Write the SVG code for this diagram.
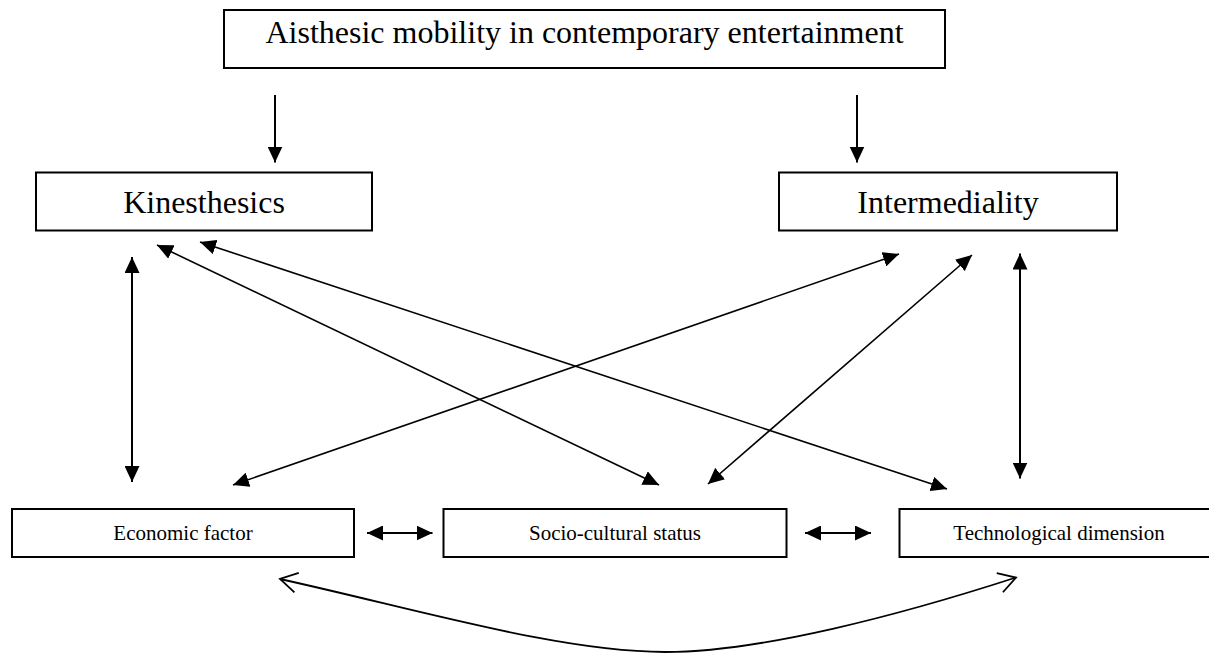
<svg xmlns="http://www.w3.org/2000/svg" width="1209" height="654" viewBox="0 0 1209 654">
<style>
.box{fill:#fff;stroke:#000;stroke-width:2}
.t{font-family:"Liberation Serif","Times New Roman",serif;fill:#000;text-anchor:middle}
.big{font-size:32px}
.small{font-size:21px}
.c{stroke:#000;stroke-width:2;fill:none}
.thin{stroke-width:1.6}
.d{marker-start:url(#ah);marker-end:url(#ah)}
.s{marker-end:url(#ah)}
</style>
<defs>
<marker id="ah" markerUnits="userSpaceOnUse" viewBox="0 0 16 15" markerWidth="16" markerHeight="15" refX="16" refY="7.5" orient="auto-start-reverse">
<path d="M0,0 L16,7.5 L0,15 z" fill="#000"/>
</marker>
<marker id="oh" markerUnits="userSpaceOnUse" viewBox="0 0 22 24" markerWidth="22" markerHeight="24" refX="20" refY="12" orient="auto-start-reverse">
<path d="M3,2 L20,12 L3,22" fill="none" stroke="#000" stroke-width="1.8"/>
</marker>
</defs>
<g id="connectors">
<line class="c s" x1="275" y1="95" x2="275" y2="162.5"/>
<line class="c s" x1="857" y1="95" x2="857" y2="162.5"/>
<line class="c d" x1="132" y1="257" x2="132" y2="482"/>
<line class="c d" x1="1020" y1="253.5" x2="1020" y2="478.5"/>
<line class="c thin d" x1="157" y1="245" x2="659" y2="485"/>
<line class="c thin d" x1="200" y1="242" x2="947" y2="489"/>
<line class="c thin d" x1="899" y1="254" x2="233" y2="485"/>
<line class="c thin d" x1="972" y1="255" x2="708" y2="484"/>
<line class="c d" x1="367" y1="533" x2="432.5" y2="533"/>
<line class="c d" x1="805" y1="533" x2="871" y2="533"/>
<path class="c" style="stroke-width:1.8;marker-start:url(#oh);marker-end:url(#oh)" d="M280,579 C420,610 560,652 665,652 C760,652 900,615 1016,577.5"/>
</g>
<g id="title">
<rect class="box" x="224" y="10" width="721" height="58"/>
<text class="t big" x="584.5" y="43">Aisthesic mobility in contemporary entertainment</text>
</g>
<g id="kinesthesics">
<rect class="box" x="36" y="172.5" width="336" height="58"/>
<text class="t big" x="204" y="213">Kinesthesics</text>
</g>
<g id="intermediality">
<rect class="box" x="779" y="172.5" width="338" height="58"/>
<text class="t big" x="948" y="213">Intermediality</text>
</g>
<g id="economic">
<rect class="box" x="12" y="509" width="342" height="48"/>
<text class="t small" x="183" y="540">Economic factor</text>
</g>
<g id="socio">
<rect class="box" x="443.5" y="509" width="343" height="48"/>
<text class="t small" x="615" y="540">Socio-cultural status</text>
</g>
<g id="technological">
<rect class="box" x="899.5" y="509" width="320" height="48"/>
<text class="t small" x="1059" y="540">Technological dimension</text>
</g>
</svg>
